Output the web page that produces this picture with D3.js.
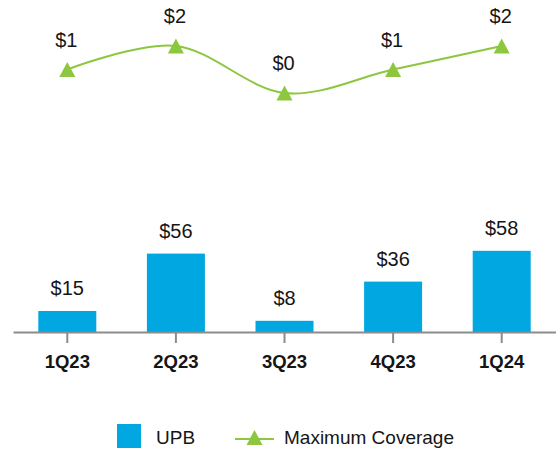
<!DOCTYPE html>
<html>
<head>
<meta charset="utf-8">
<script src="https://cdn.jsdelivr.net/npm/d3@7"></script>
<style>
  body { margin: 0; background: #fff; }
  svg { display: block; font-family: "Liberation Sans", Arial, sans-serif; }
</style>
</head>
<body>
<div id="chart"></div>
<script>
// quarters on the x axis
var quarters = ["1Q23", "2Q23", "3Q23", "4Q23", "1Q24"];

// UPB bars ($)
var upb = [15, 56, 8, 36, 58];

// maximum coverage line ($)
var coverage = [1, 2, 0, 1, 2];

var width = 556, height = 451;
var blue = "#00a7e1", green = "#8dc63f", ink = "#151515";

var svg = d3.select("#chart")
  .append("svg")
  .attr("width", width)
  .attr("height", height);

// shared x scale for bars, ticks and line points
var x = d3.scaleBand()
  .domain(quarters)
  .range([13, 556])
  .paddingInner(0.466)
  .paddingOuter(0.233);

// bar scale, baseline at the axis
var baseY = 332;
var yBar = d3.scaleLinear()
  .domain([0, 60])
  .range([baseY, baseY - 84]);

// line scale at the top
var yLine = d3.scaleLinear()
  .domain([0, 2])
  .range([93, 46]);

// bars
svg.selectAll(".bar")
  .data(upb)
  .enter().append("rect")
  .attr("class", "bar")
  .attr("x", function(d, i) { return x(quarters[i]); })
  .attr("y", function(d) { return yBar(d); })
  .attr("width", x.bandwidth())
  .attr("height", function(d) { return baseY - yBar(d); })
  .style("fill", blue);

// bar value labels
svg.selectAll(".barLabel")
  .data(upb)
  .enter().append("text")
  .attr("class", "barLabel")
  .attr("x", function(d, i) { return x(quarters[i]) + x.bandwidth() / 2; })
  .attr("y", function(d) { return yBar(d) - 16; })
  .attr("text-anchor", "middle")
  .style("font-size", "20px")
  .style("fill", ink)
  .text(function(d) { return "$" + d; });

// x axis
var xAxis = d3.axisBottom(x)
  .tickSize(11)
  .tickSizeOuter(0);

var gx = svg.append("g")
  .attr("transform", "translate(0," + baseY + ")")
  .call(xAxis);

gx.select(".domain")
  .attr("stroke", "#8c8c8c")
  .attr("stroke-width", 2);
gx.selectAll(".tick line")
  .attr("stroke", "#8c8c8c")
  .attr("stroke-width", 2);
gx.selectAll(".tick text")
  .attr("y", 36)
  .attr("dy", 0)
  .style("font-family", "'Liberation Sans', Arial, sans-serif")
  .style("font-size", "18.5px")
  .style("font-weight", "bold")
  .style("fill", ink);

// smoothed coverage line
var line = d3.line()
  .x(function(d, i) { return x(quarters[i]) + x.bandwidth() / 2; })
  .y(function(d) { return yLine(d); })
  .curve(d3.curveCardinal.tension(0));

svg.append("path")
  .datum(coverage)
  .attr("d", line)
  .style("fill", "none")
  .style("stroke", green)
  .style("stroke-width", 2);

// triangle marker path centred on 0,0
var tri = "M0,-7.5L8,7.5L-8,7.5Z";

svg.selectAll(".marker")
  .data(coverage)
  .enter().append("path")
  .attr("class", "marker")
  .attr("d", tri)
  .attr("transform", function(d, i) {
    return "translate(" + (x(quarters[i]) + x.bandwidth() / 2) + "," + yLine(d) + ")";
  })
  .style("fill", green);

svg.selectAll(".lineLabel")
  .data(coverage)
  .enter().append("text")
  .attr("class", "lineLabel")
  .attr("x", function(d, i) { return x(quarters[i]) + x.bandwidth() / 2 - 1; })
  .attr("y", function(d) { return yLine(d) - 23; })
  .attr("text-anchor", "middle")
  .style("font-size", "20px")
  .style("fill", ink)
  .text(function(d) { return "$" + d; });

// legend
var legend = svg.append("g");

legend.append("rect")
  .attr("x", 117)
  .attr("y", 424)
  .attr("width", 24)
  .attr("height", 24)
  .style("fill", blue);

legend.append("text")
  .attr("x", 156)
  .attr("y", 444)
  .style("font-size", "19px")
  .style("fill", ink)
  .text("UPB");

legend.append("line")
  .attr("x1", 235)
  .attr("x2", 274)
  .attr("y1", 439)
  .attr("y2", 439)
  .style("stroke", green)
  .style("stroke-width", 2);

legend.append("path")
  .attr("d", tri)
  .attr("transform", "translate(254.5,437.5)")
  .style("fill", green);

legend.append("text")
  .attr("x", 284)
  .attr("y", 444)
  .style("font-size", "19px")
  .style("fill", ink)
  .text("Maximum Coverage");
</script>
</body>
</html>
